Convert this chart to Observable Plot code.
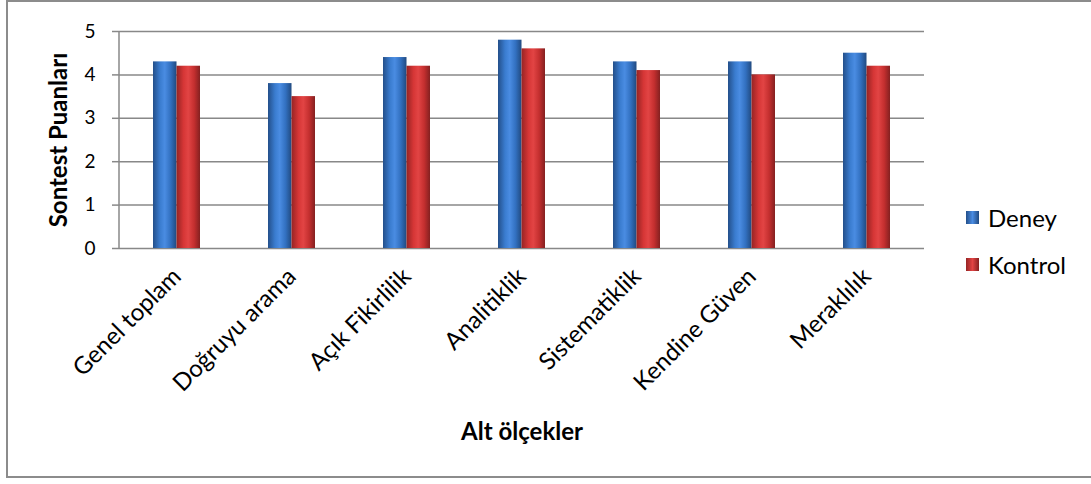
<!DOCTYPE html>
<html>
<head>
<meta charset="utf-8">
<script src="https://cdn.jsdelivr.net/npm/d3@7"></script>
<script src="https://cdn.jsdelivr.net/npm/@observablehq/plot@0.6"></script>
<style>
  html, body { margin: 0; padding: 0; background: #fff; }
  #wrap { position: relative; width: 1091px; height: 484px; overflow: hidden; font-family: Lato, "Open Sans", sans-serif; }
  #frame { position: absolute; left: 6px; top: 0px; width: 1100px; height: 478px; border: 2px solid #8c8c8c; box-sizing: border-box; }
  #chart { position: absolute; left: 0; top: 0; }
  #legend { position: absolute; left: 966px; top: 202px; font-size: 24px; color: #000; }
  .item { position: absolute; left: 0; display: flex; align-items: center; height: 30px; white-space: nowrap; }
  .sw { width: 13px; height: 13px; margin-right: 9px; }
</style>
</head>
<body>
<div id="wrap">
  <div id="frame"></div>
  <div id="chart"></div>
  <div id="legend"></div>
</div>
<script>
const categories = ["Genel toplam", "Doğruyu arama", "Açık Fikirlilik", "Analitiklik", "Sistematiklik", "Kendine Güven", "Meraklılık"];
const series = ["Deney", "Kontrol"];
const deney = [4.3, 3.8, 4.4, 4.8, 4.3, 4.3, 4.5];
const kontrol = [4.2, 3.5, 4.2, 4.6, 4.1, 4.0, 4.2];
const yTicks = [0, 1, 2, 3, 4, 5];
const yLabel = "Sontest Puanları";
const xLabel = "Alt ölçekler";

const dataDeney = categories.map((c, i) => ({cat: c, series: "Deney", value: deney[i]}));
const dataKontrol = categories.map((c, i) => ({cat: c, series: "Kontrol", value: kontrol[i]}));

const gradients = {
  Deney: ["#234f8a", "#3a7ccf", "#4a8ce2", "#3270c0", "#214a80"],
  Kontrol: ["#962424", "#d63636", "#e24444", "#c42f2f", "#842020"]
};

function defsMark() {
  const svg = d3.create("svg:g");
  const defs = svg.append("defs");
  for (const [name, cols] of Object.entries(gradients)) {
    const g = defs.append("linearGradient").attr("id", "grad" + name).attr("x1", 0).attr("x2", 1).attr("y1", 0).attr("y2", 0);
    const stops = [0, 0.3, 0.5, 0.75, 1];
    cols.forEach((c, i) => g.append("stop").attr("offset", stops[i]).attr("stop-color", c));
  }
  return svg.node();
}

function yAxisLine(index, scales, values, dimensions) {
  const g = d3.create("svg:g");
  g.append("line")
    .attr("x1", dimensions.marginLeft).attr("x2", dimensions.marginLeft)
    .attr("y1", scales.y(5)).attr("y2", scales.y(0))
    .attr("stroke", "#888").attr("stroke-width", 1.5);
  return g.node();
}

const FONT = "Lato, 'Open Sans', sans-serif";

const chart = Plot.plot({
  width: 1091,
  height: 484,
  marginLeft: 119,
  marginRight: 167,
  marginTop: 31,
  marginBottom: 236,
  style: { fontFamily: FONT, fontSize: "18px", background: "transparent", color: "#000" },
  x: { domain: categories, padding: 0 },
  y: { domain: [0, 5] },
  marks: [
    defsMark,
    Plot.gridY(yTicks, { stroke: "#888", strokeOpacity: 1, strokeWidth: 1.5 }),
    Plot.axisY(yTicks, {
      tickSize: 7, tickPadding: 17, stroke: "#888", strokeWidth: 1.5, fontSize: 19,
      label: yLabel, labelAnchor: "center", labelOffset: 70, labelArrow: false
    }),
    Plot.axisX({
      tickSize: 0, tickRotate: -45, tickPadding: 24, fontSize: 24,
      label: xLabel, labelAnchor: "center", labelOffset: 191, labelArrow: false
    }),
    Plot.barY(dataDeney, { x: "cat", y: "value", fill: "url(#gradDeney)", insetLeft: 34, insetRight: 57.5 }),
    Plot.barY(dataKontrol, { x: "cat", y: "value", fill: "url(#gradKontrol)", insetLeft: 57.5, insetRight: 34 }),
    yAxisLine
  ]
});

chart.querySelectorAll("g[aria-label='y-axis label'], g[aria-label='x-axis label']").forEach(g => {
  g.setAttribute("font-weight", "bold");
  g.setAttribute("font-size", "24");
  g.querySelectorAll("text").forEach(t => t.setAttribute("font-size", "24"));
});
chart.querySelectorAll("g[aria-label='x-axis tick label'] text").forEach(t => t.setAttribute("font-size", "24"));
chart.querySelectorAll("g[aria-label='y-axis tick label'] text").forEach(t => t.setAttribute("font-size", "19"));
document.getElementById("chart").appendChild(chart);

const legend = document.getElementById("legend");
series.forEach((s, i) => {
  const item = document.createElement("div");
  item.className = "item";
  item.style.top = (i * 47) + "px";
  const sw = document.createElement("div");
  sw.className = "sw";
  const cols = gradients[s];
  sw.style.background = `linear-gradient(to right, ${cols[0]}, ${cols[2]}, ${cols[4]})`;
  const lab = document.createElement("span");
  lab.textContent = s;
  item.appendChild(sw);
  item.appendChild(lab);
  legend.appendChild(item);
});
</script>
</body>
</html>
